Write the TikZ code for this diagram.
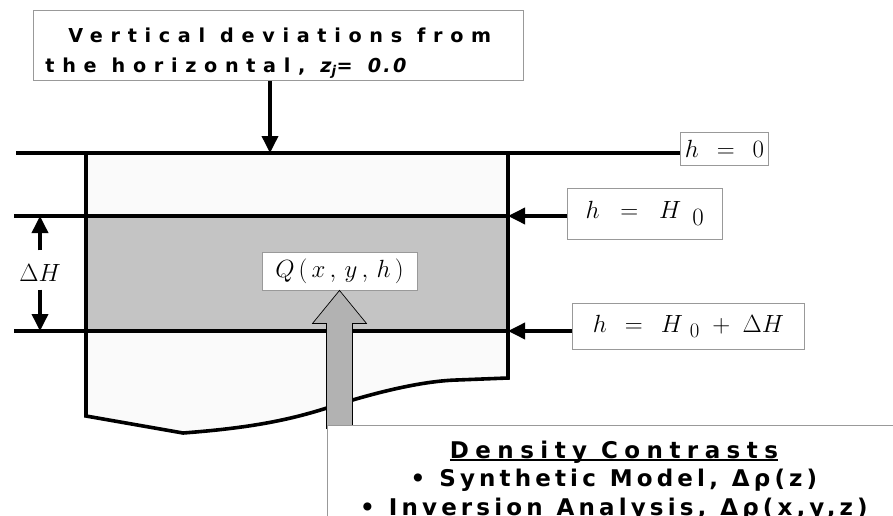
\documentclass[tikz,border=0pt]{standalone}
\usepackage{fontspec}
\usetikzlibrary{arrows.meta,calc}
\newfontfamily\capfont[LetterSpace=40]{DejaVu Sans}
\newfontfamily\densfont[LetterSpace=18]{DejaVu Sans}
\newcommand\ulined[1]{\setbox0\hbox{#1}\rlap{\rule[-3pt]{\wd0}{1.8pt}}\box0}
\tikzset{
  ground/.style={line width=3.6pt},
  labelbox/.style={draw=black!40, line width=0.9pt, fill=white, inner sep=0pt},
  pointer/.style={line width=3.6pt, -{Triangle[width=16pt,length=17pt]}},
}
\begin{document}
\begin{tikzpicture}[x=1pt,y=-1pt]
\useasboundingbox (0,0) rectangle (893,516);
% ground between the levels
\fill[black!2] (86,153) rectangle (508,216);
\fill[black!23] (86,216) rectangle (508,331);
\fill[black!2] (86,331) -- (86,416) -- (183,433)
  .. controls (250,428) and (290,420) .. (330,407)
  .. controls (370,394) and (420,381) .. (457,380) -- (508,378) -- (508,331) -- cycle;
\coordinate (top) at (270,153);
\coordinate (lup) at (14,216);
\coordinate (llo) at (14,331);
\coordinate (rup) at (508,216);
\coordinate (rlo) at (508,331);
% labels
\node[labelbox, anchor=north west, minimum width=490, minimum height=68,
  text width=466, inner xsep=12pt, inner ysep=2pt, align=left,
  font=\fontsize{19.2}{30}\selectfont\capfont\bfseries] (dev) at (33,10)
  {\spaceskip=15pt\relax\rule{0pt}{30pt}\hspace*{23pt}Vertical deviations from\\
   the horizontal, \textit{z\textsubscript{j}}= {\addfontfeature{LetterSpace=12}\textit{0.0}}};
\node[labelbox, anchor=west, minimum width=88, minimum height=33] (hzero) at (680,148.5)
  {\fontsize{24}{24}\selectfont$h\;\,=\;\,0$\hspace{6pt}};
\node[labelbox, anchor=west, minimum width=155, minimum height=51] (hH) at (567,213.5)
  {\fontsize{34}{34}\selectfont$h\;\;=\;\;H\;\,_{0}$\hspace{20pt}};
\node[labelbox, anchor=west, minimum width=232, minimum height=46] (hHd) at (572,326)
  {\fontsize{30}{30}\selectfont$h\;\,=\;\,H\;_{0}\;+\;\Delta H$\hspace{12pt}};
\node[labelbox, minimum width=155, minimum height=38] (Q) at (339.5,271)
  {\fontsize{28}{28}\selectfont$Q\,(\,x\,,\,y\,,\,h\,)$};
\node[inner sep=3pt] (dH) at (40,273) {\fontsize{25}{25}\selectfont$\Delta H$};
% levels
\draw[ground] (16,153) -- (hzero.west |- top);
\draw[ground] (lup) -- (rup);
\draw[ground] (llo) -- (rlo);
\draw[ground] (86,153) -- (86,416) -- (183,433)
  .. controls (250,428) and (290,420) .. (330,407)
  .. controls (370,394) and (420,381) .. (457,380) -- (508,378) -- (508,153);
% arrows
\draw[pointer] (dev.south -| top) -- (top);
\draw[pointer] (hH.west |- rup) -- (rup);
\draw[pointer] (hHd.west |- rlo) -- (rlo);
\draw[pointer] ([yshift=11pt]dH.north) -- (dH.north |- lup);
\draw[pointer] ([yshift=-5pt]dH.south) -- (dH.south |- llo);
\fill[black!30, draw=black, line width=0.7pt] (Q.south) -- ++(27,33) -- ++(-14,0)
  -- ++(0,105) -- ++(-26,0) -- ++(0,-105) -- ++(-14,0) -- cycle;
\node[labelbox, anchor=north west, minimum width=573, minimum height=110,
  text width=573, inner ysep=11pt, align=center,
  font=\fontsize{23}{28.5}\selectfont\densfont\bfseries] (dens) at (327,425)
  {\spaceskip=14pt\relax
   {\addfontfeature{LetterSpace=28}\ulined{Density Contrasts}}\\
   • Synthetic Model, Δρ(z)\\
   • Inversion Analysis, Δρ(x,y,z)};
\end{tikzpicture}
\end{document}
